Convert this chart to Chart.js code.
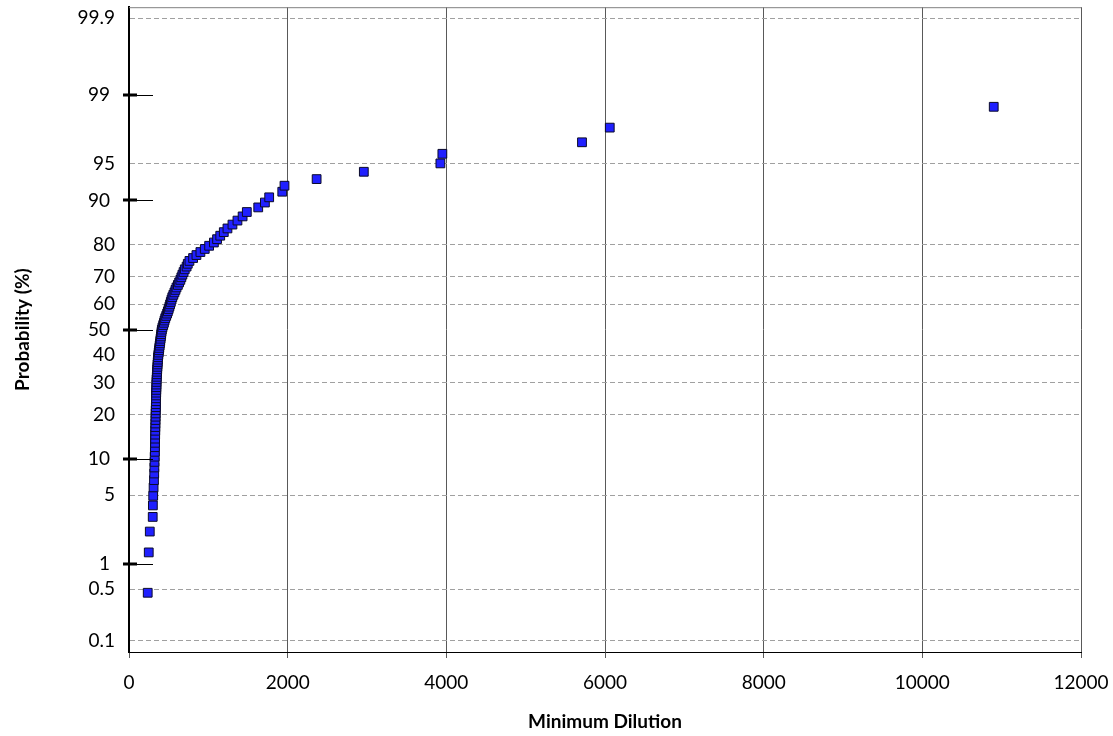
<!DOCTYPE html>
<html>
<head>
<meta charset="utf-8">
<title>Minimum Dilution - probability plot</title>
<script src="https://cdn.jsdelivr.net/npm/chart.js@4.4.0/dist/chart.umd.min.js"></script>
<style>
  html, body { margin: 0; padding: 0; background: #fff; }
  #wrap { width: 1113px; height: 736px; }
</style>
</head>
<body>
<div id="wrap"><canvas id="chart" width="1113" height="736"></canvas></div>
<script>
// minimum dilution, sorted ascending
const minDilution = [
  236, 249, 262, 299, 301, 305, 310, 315, 318, 320,
  322, 324, 326, 327, 328, 329, 330, 331, 332, 333,
  334, 335, 336, 337, 338, 339, 340, 341, 342, 343,
  344, 345, 346, 347, 348, 350, 352, 354, 356, 358,
  360, 362, 364, 366, 370, 374, 378, 382, 386, 390,
  394, 398, 402, 406, 410, 414, 422, 431, 440, 448,
  457, 469, 480, 490, 500, 509, 518, 527, 536, 546,
  559, 573, 586, 599, 616, 632, 647, 660, 673, 688,
  703, 726, 741, 762, 808, 850, 900, 955, 1010, 1070,
  1110, 1150, 1195, 1241, 1304, 1367, 1432, 1485, 1629, 1713,
  1767, 1932, 1960, 2365, 2960, 3925, 3950, 5710, 6060, 10900
];

// cumulative probability (%) of each point
const probability = [
  0.45, 1.35, 2.25, 3.15, 4.05, 4.95, 5.86, 6.76, 7.66, 8.56,
  9.46, 10.36, 11.26, 12.16, 13.06, 13.96, 14.86, 15.77, 16.67, 17.57,
  18.47, 19.37, 20.27, 21.17, 22.07, 22.97, 23.87, 24.77, 25.68, 26.58,
  27.48, 28.38, 29.28, 30.18, 31.08, 31.98, 32.88, 33.78, 34.68, 35.59,
  36.49, 37.39, 38.29, 39.19, 40.09, 40.99, 41.89, 42.79, 43.69, 44.59,
  45.50, 46.40, 47.30, 48.20, 49.10, 50.00, 50.90, 51.80, 52.70, 53.60,
  54.50, 55.41, 56.31, 57.21, 58.11, 59.01, 59.91, 60.81, 61.71, 62.61,
  63.51, 64.41, 65.32, 66.22, 67.12, 68.02, 68.92, 69.82, 70.72, 71.62,
  72.52, 73.42, 74.32, 75.23, 76.13, 77.03, 77.93, 78.83, 79.73, 80.63,
  81.53, 82.43, 83.33, 84.23, 85.14, 86.04, 86.94, 87.84, 88.74, 89.64,
  90.54, 91.44, 92.34, 93.24, 94.14, 95.05, 95.95, 96.85, 97.75, 98.65
];

// probability axis labels (%), the major ones get a tick mark instead of a grid line
const probTicks = [0.1, 0.5, 1, 5, 10, 20, 30, 40, 50, 60, 70, 80, 90, 95, 99, 99.9];
const majorTicks = [1, 10, 50, 90, 99];

/* inverse normal cdf (Acklam) - used for the probability axis */
function probit(p) {
  const a = [-3.969683028665376e+01, 2.209460984245205e+02, -2.759285104469687e+02, 1.383577518672690e+02, -3.066479806614716e+01, 2.506628277459239e+00];
  const b = [-5.447609879822406e+01, 1.615858368580409e+02, -1.556989798598866e+02, 6.680131188771972e+01, -1.328068155288572e+01];
  const c = [-7.784894002430293e-03, -3.223964580411365e-01, -2.400758277161838e+00, -2.549732539343734e+00, 4.374664141464968e+00, 2.938163982698783e+00];
  const d = [7.784695709041462e-03, 3.224671290700398e-01, 2.445134137142996e+00, 3.754408661907416e+00];
  const pl = 0.02425;
  let q, r;
  if (p < pl) {
    q = Math.sqrt(-2 * Math.log(p));
    return (((((c[0]*q + c[1])*q + c[2])*q + c[3])*q + c[4])*q + c[5]) / ((((d[0]*q + d[1])*q + d[2])*q + d[3])*q + 1);
  }
  if (p > 1 - pl) {
    q = Math.sqrt(-2 * Math.log(1 - p));
    return -(((((c[0]*q + c[1])*q + c[2])*q + c[3])*q + c[4])*q + c[5]) / ((((d[0]*q + d[1])*q + d[2])*q + d[3])*q + 1);
  }
  q = p - 0.5; r = q * q;
  return (((((a[0]*r + a[1])*r + a[2])*r + a[3])*r + a[4])*r + a[5]) * q / (((((b[0]*r + b[1])*r + b[2])*r + b[3])*r + b[4])*r + 1);
}

const FONT = 'Lato';

/* top border + the short black marks on the major probabilities */
const probPlotExtras = {
  id: 'probPlotExtras',
  beforeDatasetsDraw(chart) {
    const { ctx, chartArea: a } = chart;
    ctx.save();
    ctx.strokeStyle = '#808080';
    ctx.lineWidth = 1;
    ctx.beginPath();
    ctx.moveTo(a.left, a.top + 0.5);
    ctx.lineTo(a.right, a.top + 0.5);
    ctx.stroke();
    ctx.restore();
  },
  afterDatasetsDraw(chart) {
    const { ctx } = chart;
    const ys = chart.scales.y;
    ctx.save();
    ctx.fillStyle = '#000';
    ctx.strokeStyle = '#000';
    ctx.lineWidth = 1;
    majorTicks.forEach(p => {
      const y = Math.round(ys.getPixelForValue(probit(p / 100)));
      ctx.fillRect(123, y - 1.5, 14, 3);
      ctx.beginPath();
      ctx.moveTo(137, y + 0.5);
      ctx.lineTo(153, y + 0.5);
      ctx.stroke();
    });
    ctx.restore();
  }
};

new Chart(document.getElementById('chart').getContext('2d'), {
  type: 'scatter',
  data: {
    datasets: [{
      label: 'Minimum Dilution',
      data: minDilution.map((x, i) => ({ x: x, y: probit(probability[i] / 100) })),
      showLine: false,
      pointStyle: 'rect',
      pointRadius: 6.2,
      pointHoverRadius: 6.2,
      pointBackgroundColor: '#2020ff',
      pointBorderColor: '#0a0a2a',
      pointBorderWidth: 1
    }]
  },
  options: {
    responsive: false,
    devicePixelRatio: 1,
    animation: false,
    layout: { padding: { top: 7, right: 32, bottom: 0, left: 0 } },
    plugins: {
      legend: { display: false },
      tooltip: { enabled: false }
    },
    scales: {
      x: {
        type: 'linear',
        min: 0,
        max: 12000,
        afterFit: s => { s.height = 84; s.paddingLeft = 0; s.paddingRight = 0; },
        ticks: { stepSize: 2000, padding: 13, color: '#000', maxRotation: 0,
                 font: { family: FONT, size: 19 },
                 callback: v => String(v) },
        grid: { color: '#595959', lineWidth: 1, tickLength: 6 },
        border: { color: '#000', width: 1 },
        title: {
          display: true, text: 'Minimum Dilution', color: '#000',
          font: { family: FONT, size: 19, weight: 'bold' },
          padding: { top: 0, bottom: 3 }
        }
      },
      y: {
        type: 'linear',
        min: -3.2,
        max: 3.2,
        afterBuildTicks: s => { s.ticks = probTicks.map(p => ({ value: probit(p / 100) })); },
        afterFit: s => { s.width = 129; s.paddingTop = 0; s.paddingBottom = 0; },
        ticks: {
          autoSkip: false, padding: 14, color: '#000',
          font: { family: FONT, size: 19 },
          callback: (v, i) => majorTicks.includes(probTicks[i]) ? probTicks[i] + ' ' : String(probTicks[i])
        },
        grid: {
          drawTicks: false,
          lineWidth: 1,
          color: ctx => majorTicks.includes(probTicks[ctx.index]) ? 'rgba(0,0,0,0)' : '#a0a0a0'
        },
        border: { color: '#000', width: 2, dash: [5, 3] },
        title: {
          display: true, text: 'Probability (%)', color: '#000',
          font: { family: FONT, size: 19, weight: 'bold' },
          padding: { top: 11, bottom: 0 }
        }
      }
    }
  },
  plugins: [probPlotExtras]
});
</script>
</body>
</html>
